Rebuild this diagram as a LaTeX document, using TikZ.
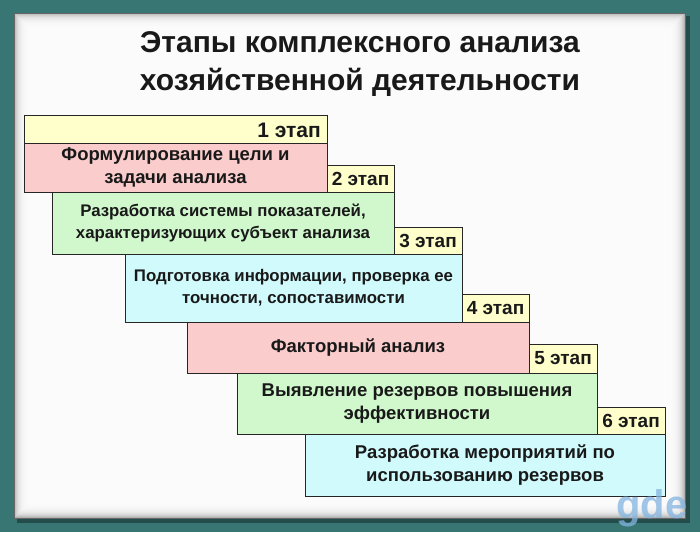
\documentclass[tikz,border=0pt]{standalone}
\usepackage{fontspec}
\setmainfont{Liberation Sans}
\definecolor{bgteal}{RGB}{56,118,116}
\definecolor{hdryellow}{RGB}{255,255,204}
\definecolor{boxpink}{RGB}{250,204,204}
\definecolor{boxgreen}{RGB}{208,248,204}
\definecolor{boxcyan}{RGB}{208,250,252}
\definecolor{wmblue}{RGB}{130,180,225}
\begin{document}
\begin{tikzpicture}[x=1pt,y=-1pt,
  box/.style={draw=black!85, line width=0.7pt, inner sep=0pt, outer sep=0pt,
    align=center, text=black!90, font=\bfseries\fontsize{18.5}{23}\selectfont},
  smallbox/.style={box, font=\bfseries\fontsize{16.8}{22}\selectfont},
  tabbox/.style={box, fill=hdryellow, font=\bfseries\fontsize{19}{19}\selectfont},
  titletext/.style={align=center, font=\bfseries\fontsize{30}{38}\selectfont, text=black!90}
 ]
\useasboundingbox (0,0) rectangle (700,532);
% background and panel
\fill[bgteal] (0,0) rectangle (700,532);
\fill[black, opacity=0.35] (17,16) rectangle (690,523);
\fill[gray!60] (14,13) rectangle (685,518);
\foreach \i in {1,...,18}
  \fill[white, opacity=0.22] (14+\i,13+\i) rectangle (685-\i,518-\i);
\draw[black!60, line width=0.6pt] (14,13) rectangle (685,518);
% title
\node[titletext] (title) at (360,64) {Этапы комплексного анализа\\хозяйственной деятельности};
% stage 1
\node[box, fill=hdryellow, minimum width=303pt, minimum height=28pt] (h1) at (175.5,129) {};
\node[anchor=east, inner sep=0pt, font=\bfseries\fontsize{21}{21}\selectfont, text=black!90] (h1t) at (321,130) {1 этап};
\node[box, fill=boxpink, minimum width=303pt, minimum height=49pt] (b1) at (175.5,167.5) {Формулирование цели и\\задачи анализа};
% stage 2
\node[tabbox, minimum width=67pt, minimum height=27pt] (t2) at (360.5,178.5) {2 этап};
\node[smallbox, fill=boxgreen, minimum width=342pt, minimum height=62pt] (b2) at (223,223) {Разработка системы показателей,\\характеризующих субъект анализа};
% stage 3
\node[tabbox, minimum width=68pt, minimum height=27pt] (t3) at (428,240.5) {3 этап};
\node[smallbox, fill=boxcyan, minimum width=337pt, minimum height=68pt] (b3) at (293.5,288) {Подготовка информации, проверка ее\\точности, сопоставимости};
% stage 4
\node[tabbox, minimum width=67pt, minimum height=28pt] (t4) at (495.5,308) {4 этап};
\node[box, fill=boxpink, minimum width=342pt, minimum height=51pt] (b4) at (358,347.5) {Факторный анализ};
% stage 5
\node[tabbox, minimum width=68pt, minimum height=29pt] (t5) at (563,358.5) {5 этап};
\node[box, fill=boxgreen, minimum width=360pt, minimum height=61pt] (b5) at (417,403.5) {Выявление резервов повышения\\эффективности};
% stage 6
\node[tabbox, minimum width=68pt, minimum height=27pt] (t6) at (631,420.5) {6 этап};
\node[box, fill=boxcyan, minimum width=360pt, minimum height=62pt] (b6) at (485,465) {Разработка мероприятий по\\использованию резервов};
% watermark
\node[font=\bfseries\fontsize{40}{40}\selectfont, text=wmblue, opacity=0.75, inner sep=0pt] (wm) at (652,508) {gde};
\end{tikzpicture}
\end{document}
